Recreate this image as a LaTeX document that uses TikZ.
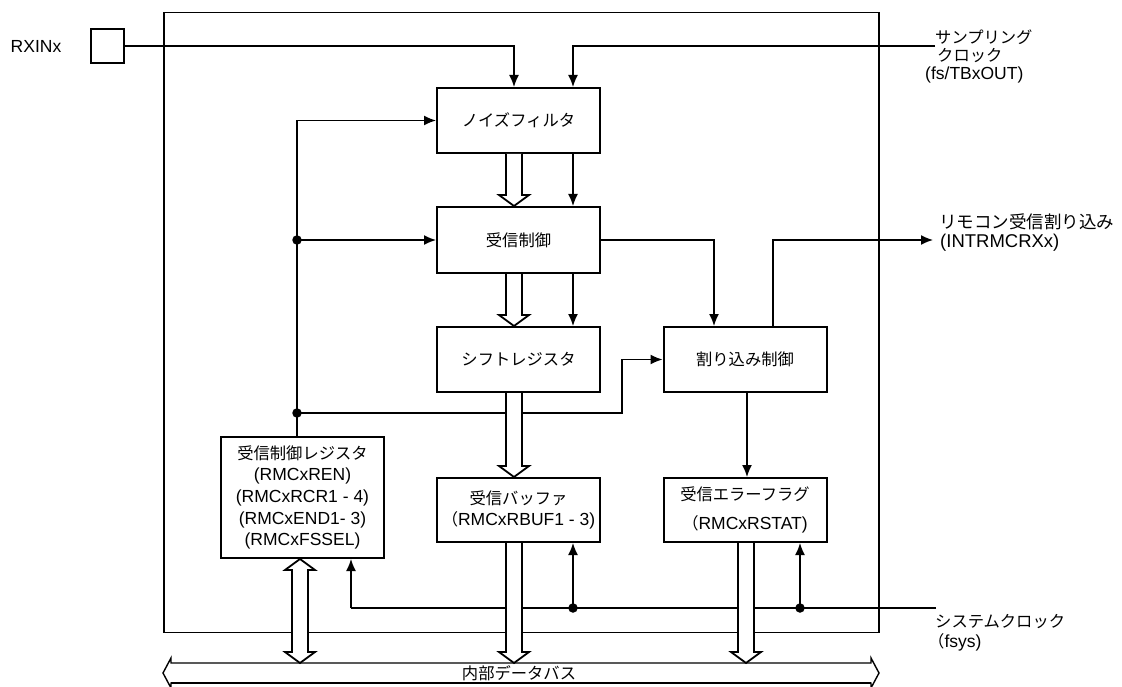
\documentclass[tikz,border=0pt]{standalone}
\usepackage{fontspec}
\setmainfont{Liberation Sans}
\newfontfamily\jpf{Noto Sans CJK JP}
\usetikzlibrary{arrows.meta,calc}
\newcommand\J[1]{{\jpf\fontsize{16.3pt}{20pt}\selectfont #1}}
\newcommand\JL[1]{{\jpf\fontsize{17.5pt}{21pt}\selectfont #1}}
% hollow arrow pointing down: #1 x-coordinate name, #2 start, #3 tip
\newcommand\hdown[3]{\filldraw[hol] ($(#2 -| #1)+(-8,0)$) -- ($(#3 -| #1)+(-8,-11)$) -- ($(#3 -| #1)+(-15,-11)$) -- (#3 -| #1) -- ($(#3 -| #1)+(15,-11)$) -- ($(#3 -| #1)+(8,-11)$) -- ($(#2 -| #1)+(8,0)$);}
% hollow double-headed arrow
\newcommand\hboth[3]{\filldraw[hol] ($(#2 -| #1)+(-8,11)$) -- ($(#3 -| #1)+(-8,-11)$) -- ($(#3 -| #1)+(-15,-11)$) -- (#3 -| #1) -- ($(#3 -| #1)+(15,-11)$) -- ($(#3 -| #1)+(8,-11)$) -- ($(#2 -| #1)+(8,11)$) -- ($(#2 -| #1)+(15,11)$) -- (#2 -| #1) -- ($(#2 -| #1)+(-15,11)$) -- cycle;}
\begin{document}
\begin{tikzpicture}[x=1pt,y=-1pt,
  every node/.style={font=\fontsize{17.5pt}{21.7pt}\selectfont, inner sep=0pt},
  blk/.style={draw, line width=2pt, minimum width=163pt, minimum height=65pt, align=center},
  frm/.style={draw, line width=1.6pt, minimum width=715pt, minimum height=620pt},
  conn/.style={line width=1.5pt},
  arr/.style={conn, -{Latex[length=12pt,width=10pt]}},
  hol/.style={line width=1.8pt, fill=white, line join=miter},
  dot/.style={circle, fill, minimum size=9.5pt, inner sep=0pt},
  lbl/.style={anchor=west, align=left},
]
\useasboundingbox (0,0) rectangle (1122,687);

% outer frame
\node[frm] (frame) at (521.5,322.5) {};

% input pin
\node (rxl) at (36,46) {RXINx};
\node[draw, line width=1.3pt, minimum width=33pt, minimum height=34pt] (rxbox) at (107.5,46) {};

% blocks
\node[blk] (nf) at (518.5,120.5) {\J{ノイズフィルタ}};
\node[blk, minimum height=66pt] (rc) at (518.5,240) {\J{受信制御}};
\node[blk] (sr) at (518.5,359.5) {\J{シフトレジスタ}};
\node[blk] (ic) at (745,359.5) {\J{割り込み制御}};
\node[blk, minimum height=121pt] (cr) at (302.5,497.5) {\J{受信制御レジスタ}\\(RMCxREN)\\(RMCxRCR1 - 4)\\(RMCxEND1- 3)\\(RMCxFSSEL)};
\node[blk, minimum height=64pt] (rb) at (518.5,510) {\J{受信バッファ}\\\J{（}RMCxRBUF1 - 3)};
\node[blk, minimum height=64pt] (ef) at (745,510) {\J{受信エラーフラグ}\\[7pt]\J{（}RMCxRSTAT)};

% outside labels
\node[lbl] (sl1) at (935,37) {\J{サンプリング}};
\node[lbl] (sl2) at (937,56) {\J{クロック}};
\node[lbl] (sl3) at (925,75) {(fs/TBxOUT)};
\node[lbl] (il1) at (939,222) {\JL{リモコン受信割り込み}};
\node[lbl, font=\fontsize{18.5pt}{22pt}\selectfont] (il2) at (940,243) {(INTRMCRXx)};
\node[lbl] (cl1) at (935,622) {\J{システムクロック}};
\node[lbl] (cl2) at (928,642) {\J{（}fsys)};

% coordinates
\coordinate (j1) at (514,46);
\coordinate (sc) at (935,46);
\coordinate (scc) at (573,46);
\coordinate (lb) at (297,120.5);
\coordinate (xs) at (573,0);
\coordinate (k1) at (622,413);
\coordinate (k2) at (714,240);
\coordinate (k4) at (773,240);
\coordinate (out) at (933,240);
\coordinate (xe) at (747,0);
\coordinate (clk) at (936,608);
\coordinate (c1) at (351,608);
\coordinate (hx) at (514,0);
\coordinate (fx) at (746,0);
\coordinate (cx) at (300,0);
\coordinate (bustop) at (521,663);

\node[dot] (d1) at (297,240) {};
\node[dot] (d2) at (297,413) {};
\node[dot] (cd1) at (573,608) {};
\node[dot] (cd2) at (800,608) {};

% connectors
\draw[arr] (rxbox.east) -- (j1) -- (j1 |- nf.north);
\draw[arr] (sc) -- (scc) -- (scc |- nf.north);
\draw[arr] (lb |- cr.north) -- (lb) -- (lb -| nf.west);
\draw[arr] (d1.center) -- (d1 -| rc.west);
\draw[arr] (d2.center) -- (k1) |- (ic.west);
\draw[arr] (nf.south -| xs) -- (rc.north -| xs);
\draw[arr] (rc.south -| xs) -- (sr.north -| xs);
\draw[arr] (rc.east) -- (k2) -- (k2 |- ic.north);
\draw[arr] (k4 |- ic.north) -- (k4) -- (out);
\draw[arr] (ic.south -| xe) -- (ef.north -| xe);
\draw[conn] (clk) -- (c1);
\draw[arr] (c1) -- (c1 |- cr.south);
\draw[arr] (cd1.center) -- (cd1 |- rb.south);
\draw[arr] (cd2.center) -- (cd2 |- ef.south);

% internal data bus
\draw[line width=1.4pt, fill=white, line join=miter] (163,673) -- (171,658) -- (171,663) -- (871,663) -- (871,658) -- (879,673) -- (871,688) -- (871,683) -- (171,683) -- (171,688) -- cycle;
\draw[line width=2.2pt] (171,683) -- (871,683);
\node (bt) at (519,673) {\J{内部データバス}};

% hollow arrows
\hdown{hx}{nf.south}{rc.north}
\hdown{hx}{rc.south}{sr.north}
\hdown{hx}{sr.south}{rb.north}
\hdown{hx}{rb.south}{bustop}
\hdown{fx}{ef.south}{bustop}
\hboth{cx}{cr.south}{bustop}
\end{tikzpicture}
\end{document}
